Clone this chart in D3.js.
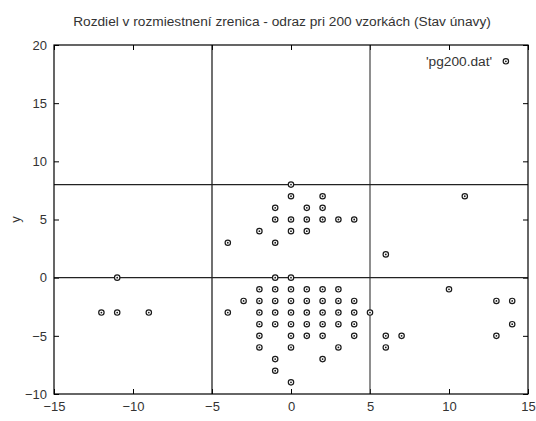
<!DOCTYPE html>
<html>
<head>
<meta charset="utf-8">
<script src="https://cdn.jsdelivr.net/npm/d3@7"></script>
<style>
  html, body { margin: 0; padding: 0; background: #fff; }
  svg { display: block; }
  text { font-family: "Liberation Sans", Arial, sans-serif; fill: #333; }
</style>
</head>
<body>
<svg id="chart" width="536" height="421"></svg>
<script>
// Pupil – reflection offset samples (x, y), one entry per distinct position
const xs = [
  0, 0, 2, -1, 1, 2, -1, 0, 1, 2, 3, 4, -2, 0, 1, -4, -1, 6, 11,
  -11, -1, 0,
  -2, -1, 0, 1, 2, 3,
  -3, -2, -1, 0, 1, 2, 3, 4,
  -12, -11, -9, -4, -2, -1, 0, 1, 2, 3, 4, 5,
  -2, -1, 0, 1, 2, 3, 4,
  -2, 0, 1, 2, 4, 6, 7, 13,
  -2, 0, 3, 6,
  -1, 2, -1, 0,
  10, 13, 14, 14
];
const ys = [
  8, 7, 7, 6, 6, 6, 5, 5, 5, 5, 5, 5, 4, 4, 4, 3, 3, 2, 7,
  0, 0, 0,
  -1, -1, -1, -1, -1, -1,
  -2, -2, -2, -2, -2, -2, -2, -2,
  -3, -3, -3, -3, -3, -3, -3, -3, -3, -3, -3, -3,
  -4, -4, -4, -4, -4, -4, -4,
  -5, -5, -5, -5, -5, -5, -5, -5,
  -6, -6, -6, -6,
  -7, -7, -8, -9,
  -1, -2, -2, -4
];

// Threshold lines
const vLines = [-5, 5];
const hLines = [0, 8];

const xTicks = [-15, -10, -5, 0, 5, 10, 15];
const yTicks = [-10, -5, 0, 5, 10, 15, 20];
const xDomain = [-15, 15];
const yDomain = [-10, 20];

const titleText = "Rozdiel v rozmiestnení zrenica - odraz pri 200 vzorkách (Stav únavy)";
const yLabel = "y";
const seriesName = "'pg200.dat'";

const margin = { left: 54, right: 8, top: 45, bottom: 27 };
const W = 536, H = 421;

const svg = d3.select("#chart");
const x = d3.scaleLinear().domain(xDomain).range([margin.left, W - margin.right]);
const y = d3.scaleLinear().domain(yDomain).range([H - margin.bottom, margin.top]);

const tickLen = 5;
const tickFont = 13;
const labelFont = 13.7;

// Bottom / top axes
svg.append("g")
  .attr("transform", `translate(0,${y(yDomain[0])})`)
  .call(d3.axisBottom(x).tickValues(xTicks).tickSizeInner(-tickLen).tickSizeOuter(0).tickPadding(8))
  .call(g => g.select(".domain").remove())
  .call(g => g.selectAll("line").attr("stroke", "#000"))
  .call(g => g.selectAll("text").attr("font-size", tickFont).attr("fill", "#333"));

svg.append("g")
  .attr("transform", `translate(0,${y(yDomain[1])})`)
  .call(d3.axisTop(x).tickValues(xTicks).tickSizeInner(-tickLen).tickSizeOuter(0).tickFormat(""))
  .call(g => g.select(".domain").remove())
  .call(g => g.selectAll("line").attr("stroke", "#000"));

// Left / right axes
svg.append("g")
  .attr("transform", `translate(${x(xDomain[0])},0)`)
  .call(d3.axisLeft(y).tickValues(yTicks).tickSizeInner(-tickLen).tickSizeOuter(0).tickPadding(7))
  .call(g => g.select(".domain").remove())
  .call(g => g.selectAll("line").attr("stroke", "#000"))
  .call(g => g.selectAll("text").attr("font-size", tickFont).attr("fill", "#333"));

svg.append("g")
  .attr("transform", `translate(${x(xDomain[1])},0)`)
  .call(d3.axisRight(y).tickValues(yTicks).tickSizeInner(-tickLen).tickSizeOuter(0).tickFormat(""))
  .call(g => g.select(".domain").remove())
  .call(g => g.selectAll("line").attr("stroke", "#000"));

// Threshold lines
svg.append("g").selectAll("line").data(vLines).join("line")
  .attr("x1", d => x(d)).attr("x2", d => x(d))
  .attr("y1", y(yDomain[0])).attr("y2", y(yDomain[1]))
  .attr("stroke", (d, i) => i === 0 ? "#111" : "#444").attr("stroke-width", 1.2);
svg.append("g").selectAll("line").data(hLines).join("line")
  .attr("x1", x(xDomain[0])).attr("x2", x(xDomain[1]))
  .attr("y1", d => y(d)).attr("y2", d => y(d))
  .attr("stroke", "#222").attr("stroke-width", 1.2);

// Plot frame
svg.append("rect")
  .attr("x", x(xDomain[0])).attr("y", y(yDomain[1]))
  .attr("width", x(xDomain[1]) - x(xDomain[0]))
  .attr("height", y(yDomain[0]) - y(yDomain[1]))
  .attr("fill", "none").attr("stroke", "#000").attr("stroke-width", 1.2);

// Point marker: small ring with a centre dot
function marker(g) {
  g.append("circle").attr("r", 2.7).attr("fill", "#fff")
    .attr("stroke", "#1a1a1a").attr("stroke-width", 1.2);
  g.append("circle").attr("r", 0.9).attr("fill", "#1a1a1a");
}

const pts = xs.map((v, i) => ({ x: v, y: ys[i] }));
svg.append("g").selectAll("g").data(pts).join("g")
  .attr("transform", d => `translate(${x(d.x)},${y(d.y)})`)
  .each(function () { marker(d3.select(this)); });

// Legend
const legY = y(18.6);
svg.append("text")
  .attr("x", x(12.73)).attr("y", legY).attr("dy", "0.35em")
  .attr("text-anchor", "end").attr("font-size", labelFont)
  .text(seriesName);
svg.append("g")
  .attr("transform", `translate(${x(13.6)},${legY})`)
  .call(marker);

// Title
svg.append("text")
  .attr("x", 282).attr("y", 21).attr("dy", "0.35em")
  .attr("text-anchor", "middle").attr("font-size", labelFont)
  .text(titleText);

// Y axis label
svg.append("text")
  .attr("transform", `translate(15,${(y(yDomain[0]) + y(yDomain[1])) / 2}) rotate(-90)`)
  .attr("dy", "0.35em")
  .attr("text-anchor", "middle").attr("font-size", tickFont)
  .text(yLabel);
</script>
</body>
</html>
